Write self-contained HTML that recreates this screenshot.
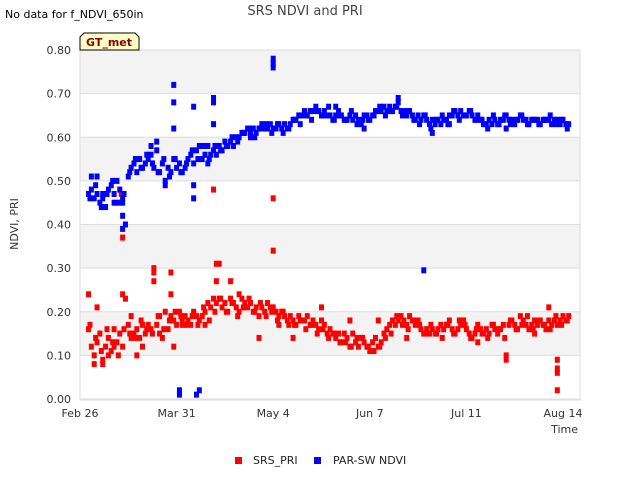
<!DOCTYPE html>
<html><head><meta charset="utf-8"><style>
body{margin:0;background:#fff;width:640px;height:480px;overflow:hidden;font-family:"Liberation Sans","DejaVu Sans",sans-serif}
svg text{font-family:"DejaVu Sans","Liberation Sans",sans-serif}
</style></head><body>
<svg id="chart" width="640" height="480" xmlns="http://www.w3.org/2000/svg">
<text x="5" y="18" font-size="11" fill="#000">No data for f_NDVI_650in</text>
<text x="305" y="15" font-size="13" fill="#444" text-anchor="middle">SRS NDVI and PRI</text>
<g id="bands"></g>
<g id="grid"></g>
<rect x="80" y="50" width="500" height="350" fill="none" stroke="#ddd"/>
<g id="yaxis"></g>
<g id="xaxis"></g>
<text transform="translate(18,224) rotate(-90)" font-size="11" fill="#333" text-anchor="middle">NDVI, PRI</text>
<text x="578" y="433" font-size="11" fill="#333" text-anchor="end">Time</text>
<g id="pri"></g>
<g id="ndvi"></g>
<g>
<path d="M80 50 L80 37 L84 33 L135 33 L139 37 L139 50 Z" fill="#ffffc8" stroke="#000" stroke-width="1"/>
<text x="109" y="46" font-size="11" font-weight="bold" fill="#8b0000" text-anchor="middle">GT_met</text>
</g>
<g>
<g><rect x="235" y="457" width="7" height="7" fill="#f00"/><text x="253" y="464" font-size="11" fill="#222">SRS_PRI</text></g>
<g><rect x="314" y="457" width="7" height="7" fill="#00f"/><text x="333" y="464" font-size="11" fill="#222">PAR-SW NDVI</text></g>
</g>
</svg>
<script>
const yTicks=[0,0.1,0.2,0.3,0.4,0.5,0.6,0.7,0.8];
const xTickLabels=["Feb 26","Mar 31","May 4","Jun 7","Jul 11","Aug 14"];
const xTickDays=[0,34,68,102,136,170];
const startDay=3;
const ndviVals=[0.47,0.48,0.46,0.47,0.45,0.46,0.44,0.48,0.49,0.47,0.50,0.48,0.46,0.40,0.51,0.53,0.54,0.52,0.55,0.53,0.54,0.55,0.56,0.53,0.57,0.52,0.54,0.50,0.53,0.52,0.55,0.53,0.54,0.52,0.53,0.55,0.56,0.54,0.57,0.58,0.55,0.56,0.58,0.56,0.57,0.56,0.58,0.57,0.59,0.58,0.59,0.58,0.60,0.60,0.61,0.61,0.62,0.61,0.62,0.61,0.62,0.63,0.62,0.62,0.63,0.62,0.62,0.63,0.62,0.63,0.62,0.63,0.64,0.64,0.65,0.65,0.66,0.65,0.66,0.66,0.67,0.66,0.65,0.66,0.65,0.65,0.64,0.65,0.66,0.65,0.64,0.64,0.65,0.64,0.65,0.64,0.63,0.65,0.65,0.64,0.65,0.66,0.66,0.66,0.67,0.66,0.67,0.66,0.67,0.68,0.66,0.66,0.65,0.66,0.65,0.64,0.65,0.64,0.65,0.64,0.63,0.64,0.63,0.64,0.63,0.64,0.64,0.65,0.65,0.66,0.65,0.66,0.65,0.65,0.66,0.65,0.64,0.65,0.64,0.63,0.63,0.64,0.63,0.64,0.63,0.64,0.64,0.65,0.64,0.64,0.63,0.64,0.65,0.64,0.64,0.63,0.64,0.64,0.64,0.63,0.64,0.64,0.64,0.63,0.64,0.64,0.63,0.64,0.63,0.63];
const ndviVals2=[0.46,0.49,0.44,0.47,0.50,0.45,0.47,0.52,0.55,0.53,0.56,0.54,0.52,0.55,0.51,0.55,0.52,0.54,0.57,0.55,0.58,0.55,0.58,0.57,0.58,0.60,0.59,0.61,0.62,0.60,0.62,0.63,0.61,0.63,0.61,0.62,0.64,0.63,0.65,0.64,0.66,0.65,0.67,0.64,0.65,0.64,0.66,0.63,0.64,0.64,0.65,0.67,0.65,0.66,0.67,0.65,0.66,0.64,0.63,0.65,0.62,0.64,0.65,0.63,0.66,0.64,0.65,0.66,0.64,0.64,0.62,0.65,0.63,0.65,0.63,0.64,0.65,0.63,0.64,0.63,0.64,0.65,0.63,0.64,0.62];
const priVals=[0.16,0.12,0.10,0.13,0.15,0.09,0.12,0.14,0.11,0.16,0.13,0.15,0.12,0.23,0.17,0.19,0.15,0.16,0.14,0.17,0.15,0.17,0.16,0.27,0.17,0.19,0.14,0.20,0.16,0.19,0.18,0.17,0.20,0.18,0.19,0.18,0.17,0.20,0.19,0.18,0.19,0.20,0.22,0.21,0.23,0.22,0.23,0.21,0.22,0.20,0.23,0.22,0.21,0.24,0.23,0.22,0.21,0.22,0.20,0.21,0.19,0.21,0.20,0.22,0.21,0.21,0.20,0.19,0.20,0.19,0.18,0.19,0.18,0.17,0.19,0.18,0.18,0.19,0.17,0.18,0.17,0.16,0.18,0.17,0.15,0.16,0.15,0.14,0.15,0.13,0.15,0.14,0.12,0.15,0.13,0.12,0.14,0.13,0.12,0.11,0.13,0.14,0.12,0.13,0.15,0.16,0.17,0.18,0.17,0.18,0.19,0.18,0.17,0.19,0.18,0.17,0.18,0.16,0.15,0.16,0.15,0.16,0.15,0.16,0.17,0.16,0.17,0.18,0.16,0.15,0.16,0.17,0.18,0.16,0.15,0.14,0.15,0.17,0.16,0.15,0.16,0.15,0.17,0.16,0.15,0.16,0.17,0.10,0.17,0.18,0.17,0.16,0.19,0.18,0.17,0.16,0.17,0.18,0.17,0.18,0.17,0.16,0.18,0.17,0.18,0.17,0.18,0.19,0.18,0.19];
const priVals2=[0.17,0.14,0.11,0.16,0.13,0.10,0.16,0.15,0.14,0.18,0.16,0.15,0.19,0.16,0.18,0.20,0.19,0.17,0.19,0.17,0.21,0.18,0.20,0.23,0.20,0.22,0.19,0.21,0.23,0.20,0.22,0.19,0.20,0.18,0.20,0.17,0.17,0.18,0.16,0.17,0.15,0.16,0.14,0.15,0.13,0.13,0.12,0.14,0.14,0.12,0.11,0.12,0.14,0.15,0.19,0.17,0.16,0.18,0.17,0.15,0.17,0.15,0.14,0.17,0.15,0.18,0.17,0.14,0.16,0.15,0.14,0.17,0.16,0.14,0.18,0.16,0.17,0.19,0.16,0.18,0.17,0.16,0.19,0.17,0.18];
const ndviExtraDays=[15,15,15,33,33,33,35,35,40,40,40,41,42,47,47,47,68,68,68,121,124,27,4,6,100,112,8,12,20,25,30,45,60,90,130,150];
const ndviExtraVals=[0.39,0.42,0.45,0.72,0.68,0.62,0.01,0.02,0.67,0.46,0.49,0.01,0.02,0.69,0.68,0.63,0.78,0.77,0.76,0.295,0.61,0.59,0.51,0.51,0.62,0.69,0.47,0.45,0.55,0.58,0.49,0.54,0.60,0.67,0.63,0.62];
const priExtraDays=[3,6,15,15,14.5,26,26,32,32,33,47,48,48,49,53,68,68,20,8,168,168,168,168,165,150,63,75,5,10,12,18,22,28,36,44,56,70,85,95,105,115,140,160];
const priExtraVals=[0.24,0.21,0.24,0.37,0.47,0.30,0.29,0.29,0.24,0.12,0.48,0.31,0.27,0.31,0.27,0.46,0.34,0.10,0.08,0.09,0.07,0.06,0.02,0.21,0.09,0.14,0.14,0.08,0.10,0.12,0.14,0.12,0.15,0.17,0.17,0.20,0.17,0.21,0.18,0.18,0.14,0.13,0.15];
const NS="http://www.w3.org/2000/svg";
const X0=80,PXD=(563-80)/170,Y0=399,PXV=(399-50)/0.8;
function xs(d){return X0+d*PXD}
function ys(v){return Y0-v*PXV}
function mk(tag,at,parent){const e=document.createElementNS(NS,tag);for(const k in at)e.setAttribute(k,at[k]);parent.appendChild(e);return e}
const bands=document.getElementById('bands'),grid=document.getElementById('grid'),ya=document.getElementById('yaxis'),xa=document.getElementById('xaxis');
mk('rect',{x:80,y:50,width:500,height:350,fill:'#fff'},bands);
for(let i=0;i<yTicks.length-1;i++){if(i%2===1){const b=mk('rect',{x:80,y:ys(yTicks[i+1]),width:500,height:ys(yTicks[i])-ys(yTicks[i+1]),fill:'#f3f3f3'},bands);

}}
yTicks.forEach(v=>{const l=mk('line',{x1:80,x2:580,y1:ys(v),y2:ys(v),stroke:'#ddd'},grid);


const t=mk('text',{x:71,y:ys(v)+4,'font-size':11,fill:'#333','text-anchor':'end'},ya);t.textContent=v.toFixed(2);

});
xTickDays.forEach((d,i)=>{const t=mk('text',{x:xs(d),y:417,'font-size':11,fill:'#333','text-anchor':'middle'},xa);t.textContent=xTickLabels[i];

});
function pts(g,days,vals,color,name){days.forEach((d,i)=>{const r=mk('rect',{x:xs(d)-2.5,y:ys(vals[i])-3,width:5,height:6,fill:color},g);

});}
const pg=document.getElementById('pri'),ng=document.getElementById('ndvi');
pts(pg,priVals.map((v,i)=>startDay+i),priVals,'#f00','pri-point');
pts(pg,priVals2.map((v,i)=>startDay+0.5+i*2),priVals2,'#f00','pri-point');
pts(pg,priExtraDays,priExtraVals,'#f00','pri-point');
pts(ng,ndviVals.map((v,i)=>startDay+i),ndviVals,'#00f','ndvi-point');
pts(ng,ndviVals2.map((v,i)=>startDay+0.5+i*2),ndviVals2,'#00f','ndvi-point');
pts(ng,ndviExtraDays,ndviExtraVals,'#00f','ndvi-point');
</script>
</body></html>
